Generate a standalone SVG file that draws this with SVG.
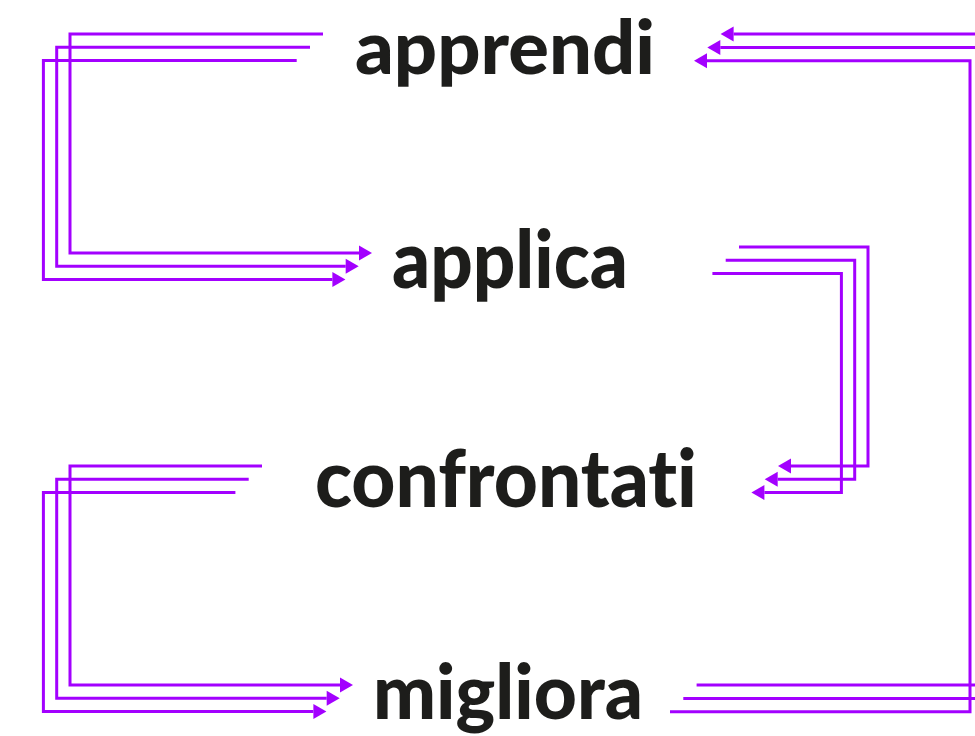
<svg xmlns="http://www.w3.org/2000/svg" width="975" height="736" viewBox="0 0 975 736">
<style>
.lbl{font-family:Lato,"Open Sans","Liberation Sans",sans-serif;font-weight:900;font-size:80px;fill:#1d1d1b;font-variant-ligatures:none;font-feature-settings:"liga" 0,"dlig" 0}
.c{fill:none;stroke:#a300ff;stroke-width:3;marker-end:url(#ah)}
</style>
<defs>
<marker id="ah" markerUnits="userSpaceOnUse" markerWidth="14" markerHeight="15" refX="0" refY="7.5" orient="auto" overflow="visible">
<path d="M0,0 L13,7.5 L0,15 z" fill="#a300ff"/>
</marker>
</defs>
<rect width="975" height="736" fill="#ffffff"/>
<g id="connectors">
<path class="c" d="M323,34 H70 V253 H359"/>
<path class="c" d="M310,47.3 H56.7 V266.3 H345.7"/>
<path class="c" d="M296.7,60.6 H43.4 V279.6 H332.4"/>
<path class="c" d="M739,247 H868 V466 H791"/>
<path class="c" d="M725.7,260.3 H854.7 V479.3 H777.7"/>
<path class="c" d="M712.4,273.6 H841.4 V492.6 H764.4"/>
<path class="c" d="M262,466 H70 V685 H340"/>
<path class="c" d="M248.7,479.3 H56.7 V698.3 H326.7"/>
<path class="c" d="M235.4,492.6 H43.4 V711.6 H313.4"/>
<path class="c" d="M670,711.7 H970 V60.7 H707"/>
<path class="c" d="M683.3,698.4 H983.3 V47.4 H720.3"/>
<path class="c" d="M696.6,685.1 H996.6 V34.1 H733.6"/>
</g>
<g id="apprendi"><text class="lbl" x="355" y="74" style="font-size:75px" textLength="300" lengthAdjust="spacingAndGlyphs">apprendi</text></g>
<g id="applica"><text class="lbl" x="392" y="288" textLength="236" lengthAdjust="spacingAndGlyphs">applica</text></g>
<g id="confrontati"><text class="lbl" x="315" y="507" textLength="382" lengthAdjust="spacingAndGlyphs">confrontati</text></g>
<g id="migliora"><text class="lbl" x="373" y="719" style="font-size:76px" textLength="270" lengthAdjust="spacingAndGlyphs">migliora</text></g>
</svg>
